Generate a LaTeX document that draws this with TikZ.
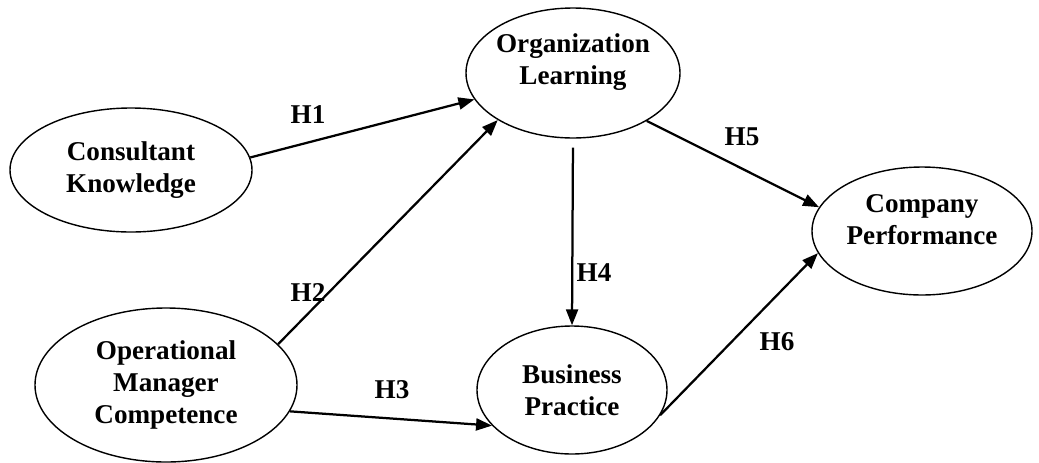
\documentclass[tikz,border=0pt]{standalone}
\usepackage{fontspec}
\setmainfont{Liberation Serif}
\usetikzlibrary{shapes.geometric,arrows.meta}
\begin{document}
\begin{tikzpicture}[x=0.025cm, y=-0.025cm,
    every node/.style={font=\bfseries\fontsize{19.3}{22.8}\selectfont, align=center},
    latent/.style={draw, ellipse, line width=1pt, inner sep=0pt},
    path/.style={line width=1.6pt, -{Triangle[length=0.4cm, width=0.3cm]}}]
            \useasboundingbox (0,0) rectangle (1039,462);
            \node[latent, minimum width=242*0.025cm, minimum height=124*0.025cm] (ck) at (131,170) {Consultant\\Knowledge};
            \node[latent, minimum width=214*0.025cm, minimum height=130*0.025cm,
                label={[yshift=0.28cm]center:Organization\\Learning}] (ol) at (573,73) {};
            \node[latent, minimum width=220*0.025cm, minimum height=128*0.025cm,
                label={[yshift=0.28cm]center:Company\\Performance}] (cp) at (922,231) {};
            \node[latent, minimum width=262*0.025cm, minimum height=154*0.025cm] (omc) at (166,385) {Operational\\Manager\\Competence};
            \node[latent, minimum width=190*0.025cm, minimum height=128*0.025cm] (bp) at (572,390) {Business\\Practice};
            \node (h1) at (308,115) {H1};
            \node (h2) at (308,293) {H2};
            \node (h3) at (392,390) {H3};
            \node (h4) at (594,273) {H4};
            \node (h5) at (742,137) {H5};
            \node (h6) at (777,342) {H6};
            \draw[path] (ck.6) -- (ol.195);
            \draw[path] (omc.20) -- (ol.212);
            \draw[path] (omc.-12) -- (bp.204);
            \draw[path, shorten <=0.22cm] (ol.south) -- (bp.north);
            \draw[path] (ol.-33) -- (cp.167);
            \draw[path] (bp.-16) -- (cp.192);
        \end{tikzpicture}
\end{document}
